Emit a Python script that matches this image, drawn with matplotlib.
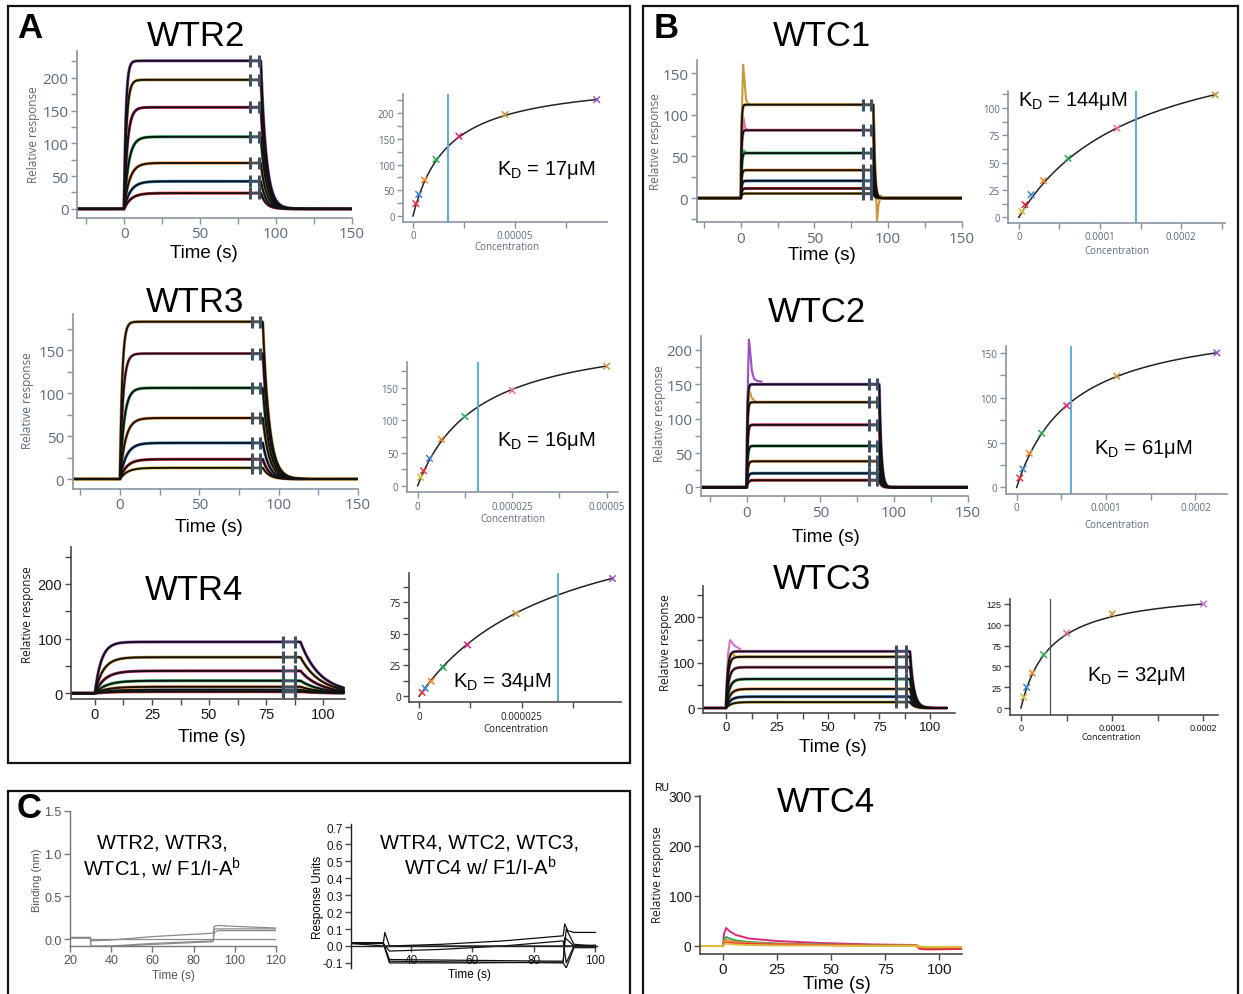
import numpy as np
import matplotlib.pyplot as plt
from matplotlib.patches import Rectangle

plt.rcParams['font.family'] = ['Liberation Sans', 'DejaVu Sans']
plt.rcParams['mathtext.fontset'] = 'custom'
plt.rcParams['mathtext.rm'] = 'Liberation Sans'
plt.rcParams['mathtext.it'] = 'Liberation Sans:italic'

W, H = 1243, 995

# colours used by the instrument software
PURPLE = '#9b4fc0'
GOLD = '#c9973a'
MAGENTA = '#e0287a'
PINK = '#ee6d9e'
GREEN = '#2faa55'
ORANGE = '#f5872a'
BLUE = '#3a86d4'
RED = '#e8333a'
YELLOW = '#dcbc3c'
VIOLET = '#cf72c9'

# ---- data, lowest concentration first ----
wtr2_conc = [1.4e-6, 2.8e-6, 5.6e-6, 1.125e-5, 2.25e-5, 4.5e-5, 9.0e-5]
wtr2_resp = [24, 42, 70, 110, 155, 197, 226]
wtr2_colors = [RED, BLUE, ORANGE, GREEN, MAGENTA, GOLD, PURPLE]
wtr2_tau_on = [4.6, 4.2, 3.6, 3.0, 2.2, 1.6, 1.2]
wtr2_tau_off = 3.5
wtr2_kd, wtr2_bmax = 1.7e-5, 269

wtr3_conc = [0.78e-6, 1.56e-6, 3.125e-6, 6.25e-6, 1.25e-5, 2.5e-5, 5.0e-5]
wtr3_resp = [13, 23, 42, 71, 106, 146, 183]
wtr3_colors = [YELLOW, RED, BLUE, ORANGE, GREEN, PINK, GOLD]
wtr3_tau_on = [4.6, 4.3, 4.0, 3.4, 2.6, 1.9, 1.4]
wtr3_tau_off = 4.0
wtr3_kd, wtr3_bmax = 1.6e-5, 242

wtr4_conc = [0.74e-6, 1.47e-6, 2.95e-6, 5.9e-6, 1.18e-5, 2.36e-5, 4.72e-5]
wtr4_resp = [3, 6.4, 12, 23, 41, 66, 94]
wtr4_colors = [RED, BLUE, ORANGE, GREEN, MAGENTA, GOLD, PURPLE]
wtr4_tau_on = [6.0, 5.8, 5.5, 5.0, 4.3, 3.6, 2.8]
wtr4_tau_off = 8.5
wtr4_kd, wtr4_bmax = 3.4e-5, 162

wtc1_conc = [3.78e-6, 7.56e-6, 1.51e-5, 3.03e-5, 6.05e-5, 1.21e-4, 2.42e-4]
wtc1_resp = [5.5, 11.6, 20.7, 33.5, 54, 81.4, 112]
wtc1_colors = [YELLOW, RED, BLUE, ORANGE, GREEN, PINK, GOLD]
wtc1_tau_on = [0.6, 0.6, 0.55, 0.5, 0.5, 0.45, 0.4]
wtc1_tau_off = 0.9
wtc1_kd, wtc1_bmax = 1.44e-4, 179

wtc2_conc = [3.5e-6, 7e-6, 1.4e-5, 2.8e-5, 5.6e-5, 1.12e-4, 2.24e-4]
wtc2_resp = [10.4, 20.5, 38, 60.3, 91, 124, 150]
wtc2_colors = [RED, BLUE, ORANGE, GREEN, MAGENTA, GOLD, PURPLE]
wtc2_tau_on = [0.9, 0.8, 0.7, 0.6, 0.55, 0.5, 0.45]
wtc2_tau_off = 1.3
wtc2_kd, wtc2_bmax = 6.1e-5, 191

wtc3_conc = [3.125e-6, 6.25e-6, 1.25e-5, 2.5e-5, 5e-5, 1e-4, 2e-4]
wtc3_resp = [13, 25, 42, 64, 90, 113, 125]
wtc3_colors = [YELLOW, BLUE, ORANGE, GREEN, PINK, GOLD, VIOLET]
wtc3_tau_on = [2.4, 2.1, 1.9, 1.6, 1.3, 1.0, 0.8]
wtc3_tau_off = 1.8
wtc3_kd, wtc3_bmax = 3.2e-5, 145

# injection spikes: (colour, time, response)
wtc1_spikes = [(GOLD, [0, 0.7, 1.5, 2.5, 3.5, 5, 7], [0, 100, 160, 140, 118, 113, 112]),
               (PINK, [0, 0.8, 1.7, 3, 5], [0, 70, 97, 84, 81]),
               (GREEN, [0, 1, 2, 4], [0, 50, 57, 54]),
               (GOLD, [89.5, 90.5, 91.5, 92.5, 93.5, 95, 97], [112, 90, 20, -28, -8, 3, 1])]
wtc2_spikes = [(PURPLE, [0, 0.8, 1.5, 2.3, 3.5, 5, 7, 10], [0, 150, 215, 200, 170, 158, 155, 154]),
               (GOLD, [0, 1, 2, 3.5, 6], [0, 120, 140, 130, 125])]
wtc3_spikes = [(VIOLET, [0, 1, 2, 4, 7], [0, 120, 150, 138, 130]),
               (GOLD, [0, 1.2, 2.5, 4.5], [0, 105, 122, 114])]

# WTC4: no binding, colour traces
wtc4_t = [-10, 0, 0.5, 1.5, 3, 6, 12, 25, 45, 70, 89.5, 91, 95, 110]
wtc4_traces = [
    (MAGENTA, [0, 0, 25, 36, 30, 22, 15, 10, 6, 3, 2, -4, -5, -4]),
    (GREEN, [0, 0, 12, 18, 15, 11, 8, 5, 3, 2, 1, -3, -4, -3]),
    (ORANGE, [0, 0, 8, 12, 10, 8, 6, 4, 2, 1, 1, -2, -3, -2]),
    (RED, [0, 0, 4, 7, 6, 5, 4, 3, 2, 1, 0, -6, -7, -6]),
    (YELLOW, [0, 0, 3, 5, 4, 3, 2, 1, 1, 0, 0, -1, -2, -2]),
]

# panel C, left (BLI, gray traces)
c1_traces = [
    ([20, 30, 30, 40, 60, 89.5, 90, 92, 100, 120], [0.02, 0.02, -0.02, -0.01, 0.03, 0.07, 0.15, 0.16, 0.15, 0.13]),
    ([30, 120], [0.0, 0.0]),
    ([20, 30, 30, 40, 60, 89.5, 90, 92, 120], [0.02, 0.02, -0.08, -0.08, -0.05, -0.02, 0.08, 0.10, 0.10]),
    ([20, 30, 30, 45, 70, 89.5, 90, 120], [0.01, 0.01, -0.09, -0.08, -0.05, -0.03, 0.12, 0.12]),
]
# panel C, right (SPR, black traces)
c2_traces = [
    ([20.5, 31, 31.5, 33, 50, 70, 89.5, 90, 91, 93, 100], [0.015, 0.015, 0.08, 0.0, 0.01, 0.03, 0.06, 0.13, 0.09, 0.08, 0.08]),
    ([20.5, 31, 33, 50, 70, 89.5, 90.5, 93, 100], [0.015, 0.015, -0.03, -0.02, 0.0, 0.03, -0.1, 0.0, 0.0]),
    ([20.5, 31, 100], [0.015, 0.0, 0.0]),
    ([20.5, 31, 33, 60, 89.5, 90.5, 93, 100], [0.015, 0.015, -0.08, -0.085, -0.09, 0.1, 0.01, 0.0]),
    ([20.5, 31, 33, 60, 89.5, 90.5, 93, 100], [0.015, 0.015, -0.09, -0.095, -0.1, -0.13, -0.01, -0.01]),
    ([20.5, 31, 33, 60, 89.5, 90, 93, 100], [0.02, 0.02, -0.1, -0.1, -0.095, 0.05, 0.0, 0.005]),
]

fig = plt.figure(figsize=(W / 100, H / 100), dpi=100)

AX_GRAY = '#8795a3'
LBL_GRAY = '#5c6b7a'


def px_axes(x0, y0, x1, y1):
    return fig.add_axes([x0 / W, 1 - y1 / H, (x1 - x0) / W, (y1 - y0) / H])


def ftext(x, y, s, **kw):
    fig.text(x / W, 1 - y / H, s, ha='center', va='center', **kw)


def style(ax, xt, xminor, yt, yminor, xlabels=None, size=11, dark=False, font='Open Sans'):
    sp = '#4a4a4a' if dark else AX_GRAY
    lc = '#1a1a1a' if dark else LBL_GRAY
    for s in ['top', 'right']:
        ax.spines[s].set_visible(False)
    for s in ['left', 'bottom']:
        ax.spines[s].set_color(sp)
        ax.spines[s].set_linewidth(1.2)
    ax.set_xticks(xt)
    if xlabels is not None:
        ax.set_xticklabels(xlabels)
    ax.set_xticks(xminor, minor=True)
    ax.set_yticks(yt)
    ax.set_yticks(yminor, minor=True)
    ax.tick_params(which='both', direction='out', color=sp, length=4, width=1,
                   labelcolor=lc, labelsize=size, pad=2)
    for t in ax.get_xticklabels() + ax.get_yticklabels():
        t.set_fontfamily(font)
    ax.patch.set_alpha(0)


def sensorgram(box, xlim, ylim, t_end, resp, colors, tau_on, tau_off, spikes=(), marks=(83, 88.5)):
    ax = px_axes(*box)
    t = np.linspace(xlim[0], t_end, 1200)
    curves = []
    for r, ton in zip(resp, tau_on):
        y = r * (1 - np.exp(-np.clip(t, 0, 90) / ton))
        r90 = r * (1 - np.exp(-90 / ton))
        y = np.where(t > 90, r90 * np.exp(-(t - 90) / tau_off), y)
        curves.append((y, r90))
    for (y, _), c in zip(curves, colors):
        ax.plot(t, y, color=c, lw=2.2, solid_capstyle='butt')
    for c, st, sy in spikes:
        ax.plot(st, sy, color=c, lw=1.5)
    for y, _ in curves:
        ax.plot(t, y, color='#111111', lw=1.4)
    for _, r90 in curves:
        ax.plot(marks, [r90, r90], color='#3e5063', lw=1.6)
        ax.plot(marks, [r90, r90], ls='none', marker='|', ms=9, mew=2.2, color='#3e5063')
    ax.set_xlim(xlim)
    ax.set_ylim(ylim)
    return ax


def binding(box, xlim, ylim, conc, resp, colors, kd, bmax, line_color='#5aaee0', line_w=1.4):
    ax = px_axes(*box)
    xs = np.linspace(0, conc[-1], 300)
    ax.plot(xs, bmax * xs / (kd + xs), color='#222222', lw=1.1)
    ax.axvline(kd, color=line_color, lw=line_w)
    ax.scatter(conc, resp, marker='x', c=colors, s=22, linewidths=1.1, zorder=3)
    ax.set_xlim(xlim)
    ax.set_ylim(ylim)
    return ax


def rel_label(x, y, dark=False):
    ftext(x, y, 'Relative response', rotation=90, fontsize=8.5,
          color='#1a1a1a' if dark else LBL_GRAY, family='Open Sans')


def conc_label(x, y, size=7, dark=False):
    ftext(x, y, 'Concentration', fontsize=size, color='#1a1a1a' if dark else LBL_GRAY, family='Open Sans')


# ================= panel A =================
ax = sensorgram((77, 52, 352, 219), (-31, 150), (-14, 241), 150, wtr2_resp, wtr2_colors, wtr2_tau_on, wtr2_tau_off)
style(ax, [0, 50, 100, 150], [-25, 25, 75, 125], [0, 50, 100, 150, 200], [25, 75, 125, 175, 225])
rel_label(33, 135)
ftext(196, 37, 'WTR2', fontsize=25)
ftext(204, 254, 'Time (s)', fontsize=13.5)

ax = binding((403, 95, 607, 223), (-4.9e-6, 9.5e-5), (-11.7, 237), wtr2_conc, wtr2_resp, wtr2_colors, wtr2_kd, wtr2_bmax)
style(ax, [0, 5e-5], [2.5e-5, 7.5e-5], [0, 50, 100, 150, 200], [25, 75, 125, 175, 225],
      xlabels=['0', '0.00005'], size=7)
conc_label(507, 248)
ftext(546, 170, r'K$_{\rm D}$ = 17μM', fontsize=14.5)

ax = sensorgram((72.7, 315, 358, 490), (-29.8, 150), (-11.6, 192), 150, wtr3_resp, wtr3_colors, wtr3_tau_on, wtr3_tau_off)
style(ax, [0, 50, 100, 150], [-25, 25, 75, 125], [0, 50, 100, 150], [25, 75, 125, 175])
rel_label(27, 401)
ftext(195, 302, 'WTR3', fontsize=25)
ftext(209, 527, 'Time (s)', fontsize=13.5)

ax = binding((406.7, 362.7, 618, 493.3), (-2.9e-6, 5.3e-5), (-10, 190), wtr3_conc, wtr3_resp, wtr3_colors, wtr3_kd, wtr3_bmax)
style(ax, [0, 2.5e-5, 5e-5], [1.25e-5, 3.75e-5], [0, 50, 100, 150], [25, 75, 125, 175],
      xlabels=['0', '0.000025', '0.00005'], size=7)
conc_label(513, 520)
ftext(546, 441, r'K$_{\rm D}$ = 16μM', fontsize=14.5)

ax = sensorgram((70.7, 548, 345, 700), (-10.6, 109.5), (-10.4, 267.6), 109, wtr4_resp, wtr4_colors, wtr4_tau_on, wtr4_tau_off, marks=(82.5, 87.5))
style(ax, [0, 25, 50, 75, 100], [12.5, 37.5, 62.5, 87.5], [0, 100, 200], [50, 150, 250], dark=True, font='Liberation Sans', size=10.5)
rel_label(27, 615, dark=True)
ftext(194, 590, 'WTR4', fontsize=25)
ftext(212, 738, 'Time (s)', fontsize=13.5)

ax = binding((409.3, 574, 620.7, 703.3), (-2.4e-6, 4.92e-5), (-4.8, 98.4), wtr4_conc, wtr4_resp, wtr4_colors, wtr4_kd, wtr4_bmax)
style(ax, [0, 2.5e-5], [1.25e-5, 3.75e-5], [0, 25, 50, 75], [12.5, 37.5, 62.5, 87.5],
      xlabels=['0', '0.000025'], size=7, dark=True)
conc_label(516, 730, dark=True)
ftext(502, 682, r'K$_{\rm D}$ = 34μM', fontsize=14.5)

# ================= panel B =================
ax = sensorgram((696.7, 61, 961.7, 223.3), (-30, 150), (-29, 165.6), 150, wtc1_resp, wtc1_colors, wtc1_tau_on, wtc1_tau_off, spikes=wtc1_spikes)
style(ax, [0, 50, 100, 150], [-25, 25, 75, 125], [0, 50, 100, 150], [-25, 25, 75, 125])
rel_label(655, 142)
ftext(822, 37, 'WTC1', fontsize=25)
ftext(822, 255, 'Time (s)', fontsize=13.5)

ax = binding((1008.3, 91.7, 1225, 224), (-1.3e-5, 2.54e-4), (-5.2, 115.8), wtc1_conc, wtc1_resp, wtc1_colors, wtc1_kd, wtc1_bmax)
style(ax, [0, 1e-4, 2e-4], [5e-5, 1.5e-4, 2.5e-4], [0, 25, 50, 75, 100], [12.5, 37.5, 62.5, 87.5, 112.5],
      xlabels=['0', '0.0001', '0.0002'], size=7)
conc_label(1117, 252)
ftext(1073, 101, r'K$_{\rm D}$ = 144μM', fontsize=14.5)

ax = sensorgram((701, 336.7, 967.7, 497.3), (-31, 150), (-13, 220.8), 150, wtc2_resp, wtc2_colors, wtc2_tau_on, wtc2_tau_off, spikes=wtc2_spikes)
style(ax, [0, 50, 100, 150], [-25, 25, 75, 125], [0, 50, 100, 150, 200], [25, 75, 125, 175])
rel_label(659, 414)
ftext(817, 312, 'WTC2', fontsize=25)
ftext(826, 537, 'Time (s)', fontsize=13.5)

ax = binding((1005.7, 346.7, 1226.7, 495), (-1.23e-5, 2.35e-4), (-7.4, 158), wtc2_conc, wtc2_resp, wtc2_colors, wtc2_kd, wtc2_bmax)
style(ax, [0, 1e-4, 2e-4], [5e-5, 1.5e-4], [0, 50, 100, 150], [25, 75, 125],
      xlabels=['0', '0.0001', '0.0002'], size=7)
conc_label(1117, 526)
ftext(1143, 449, r'K$_{\rm D}$ = 61μM', fontsize=14.5)

ax = sensorgram((703.3, 586.7, 955, 714), (-11.1, 112), (-11, 270), 108, wtc3_resp, wtc3_colors, wtc3_tau_on, wtc3_tau_off, spikes=wtc3_spikes, marks=(83, 88))
style(ax, [0, 25, 50, 75, 100], [12.5, 37.5, 62.5, 87.5], [0, 100, 200], [50, 150, 250], dark=True, font='Liberation Sans', size=9.5)
rel_label(665, 643, dark=True)
ftext(822, 580, 'WTC3', fontsize=25)
ftext(833, 748, 'Time (s)', fontsize=13.5)

ax = binding((1010, 600, 1218, 716), (-1.2e-5, 2.16e-4), (-8.4, 131), wtc3_conc, wtc3_resp, wtc3_colors, wtc3_kd, wtc3_bmax,
             line_color='#555555', line_w=0.9)
style(ax, [0, 1e-4, 2e-4], [5e-5, 1.5e-4], [0, 25, 50, 75, 100, 125], [],
      xlabels=['0', '0.0001', '0.0002'], size=6.5, dark=True, font='Liberation Sans')
conc_label(1111, 737, size=6.5, dark=True)
ftext(1136, 676, r'K$_{\rm D}$ = 32μM', fontsize=14.5)

ax = px_axes(700, 797, 962, 955)
for c, v in wtc4_traces:
    ax.plot(wtc4_t, v, color=c, lw=1.4)
ax.set_xlim(-10.6, 110.5)
ax.set_ylim(-16, 300)
style(ax, [0, 25, 50, 75, 100], [], [0, 100, 200, 300], [], dark=True, font='Liberation Sans', size=10)
ax.tick_params(axis='x', labelsize=11)
rel_label(658, 875, dark=True)
ftext(662, 788, 'RU', fontsize=7.5)
ftext(826, 803, 'WTC4', fontsize=25)
ftext(837, 985, 'Time (s)', fontsize=13.5)

# ================= panel C =================
ax = px_axes(70, 812, 276, 947)
for t, v in c1_traces:
    ax.plot(t, v, color='#8a8a8a', lw=0.9)
ax.set_xlim(20, 120)
ax.set_ylim(-0.08, 1.5)
style(ax, [20, 40, 60, 80, 100, 120], [], [0.0, 0.5, 1.0, 1.5], [],
      xlabels=None, size=9, font='Liberation Sans')
ax.set_yticklabels(['0.0', '0.5', '1.0', '1.5'], fontfamily='Liberation Sans')
ax.tick_params(colors='#777777', labelcolor='#555555')
for s in ['left', 'bottom']:
    ax.spines[s].set_color('#777777')
    ax.spines[s].set_linewidth(1)
ftext(37, 880, 'Binding (nm)', rotation=90, fontsize=8, color='#555555')
ftext(173, 976, 'Time (s)', fontsize=8.5, color='#555555')
ftext(162, 843, 'WTR2, WTR3,', fontsize=14.5)
ftext(162, 868, r'WTC1, w/ F1/I-A$^{\rm b}$', fontsize=14.5)

ax = px_axes(351, 825, 597, 969)
for t, v in c2_traces:
    ax.plot(t, v, color='#111111', lw=0.9)
ax.set_xlim(20.5, 100.5)
ax.set_ylim(-0.13, 0.72)
style(ax, [40, 60, 80, 100], [], [-0.1, 0.0, 0.1, 0.2, 0.3, 0.4, 0.5, 0.6, 0.7], [],
      size=8.5, dark=True, font='Liberation Sans')
ax.set_yticklabels(['-0.1', '0.0', '0.1', '0.2', '0.3', '0.4', '0.5', '0.6', '0.7'], fontfamily='Liberation Sans')
ax.spines['bottom'].set_position(('data', 0))
for s in ['left', 'bottom']:
    ax.spines[s].set_color('#222222')
    ax.spines[s].set_linewidth(1)
ftext(318, 897, 'Response Units', rotation=90, fontsize=8.5)
ftext(469, 975, 'Time (s)', fontsize=8.5)
ftext(480, 843, 'WTR4, WTC2, WTC3,', fontsize=14.5)
ftext(480, 868, r'WTC4 w/ F1/I-A$^{\rm b}$', fontsize=14.5)


# ================= frames and panel letters =================
def frame(x0, y0, x1, y1):
    fig.add_artist(Rectangle((x0 / W, 1 - y1 / H), (x1 - x0) / W, (y1 - y0) / H,
                             transform=fig.transFigure, fill=False, lw=1.6, ec='#111111'))


frame(8, 7, 630, 764)
frame(643, 7, 1238, 1005)
frame(8, 792, 630, 1005)

ftext(30, 29, 'A', fontsize=25, fontweight='bold')
ftext(666, 29, 'B', fontsize=25, fontweight='bold')
ftext(29, 809, 'C', fontsize=25, fontweight='bold')

fig.savefig('out.png', dpi=100)
